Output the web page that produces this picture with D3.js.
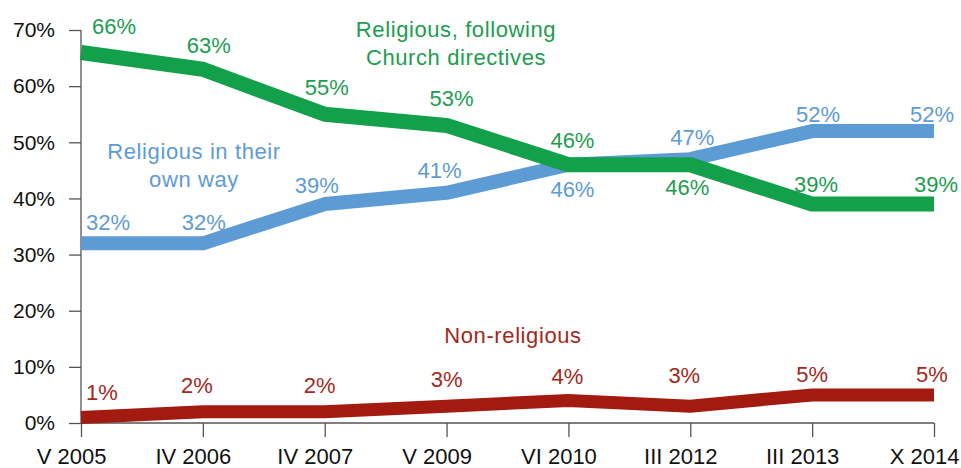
<!DOCTYPE html>
<html>
<head>
<meta charset="utf-8">
<script src="https://cdn.jsdelivr.net/npm/d3@7/dist/d3.min.js"></script>
<style>
  html, body { margin: 0; padding: 0; background: #fff; }
  svg { display: block; font-family: "Liberation Sans", Arial, sans-serif; }
</style>
</head>
<body>
<svg id="chart" width="961" height="468"></svg>
<script>
// Survey waves
const periods = ["V 2005", "IV 2006", "IV 2007", "V 2009", "VI 2010", "III 2012", "III 2013", "X 2014"];

// Share of respondents (%)
const followingChurch = [66, 63, 55, 53, 46, 46, 39, 39];
const ownWay = [32, 32, 39, 41, 46, 47, 52, 52];
const nonReligious = [1, 2, 2, 3, 4, 3, 5, 5];

const yTicks = [0, 10, 20, 30, 40, 50, 60, 70];

// Value-label nudges [dx, dy] relative to each point
const followingOffsets = [[33, -18], [6, -16], [2, -19], [5, -19], [4, -17], [-3, 30], [4, -12], [2, -12]];
const ownWayOffsets = [[27, -13], [1, -13], [-8, -11], [-7, -15], [4, 32], [2, -14], [6, -9], [-2, -9]];
const nonReligiousOffsets = [[21, -17], [-6, -19], [-5, -19], [0, -19], [-1, -17], [-6, -23], [0, -13], [-2, -13]];

const svg = d3.select("#chart");

const x = d3.scalePoint().domain(periods).range([81, 934]);
const y = d3.scaleLinear().domain([0, 70]).range([423, 30]);

// Axes
const yAxis = d3.axisLeft(y).tickValues(yTicks).tickFormat(d => d + "%").tickSize(12).tickPadding(14);
const gy = svg.append("g").attr("transform", "translate(81,0)").call(yAxis);
gy.select(".domain").attr("stroke", "#555").attr("stroke-width", 1.3).attr("d", "M0," + y(70) + "V" + y(0));
gy.selectAll(".tick line").attr("stroke", "#555").attr("stroke-width", 1.3);
gy.selectAll(".tick text").attr("fill", "#111").style("font-size", "21px").style("font-family", "Liberation Sans, Arial, sans-serif");

const xAxis = d3.axisBottom(x).tickSize(14).tickPadding(11);
const gx = svg.append("g").attr("transform", "translate(0,423)").call(xAxis);
gx.select(".domain").attr("stroke", "#555").attr("stroke-width", 1.3).attr("d", "M" + x.range()[0] + ",0H" + x.range()[1]);
gx.selectAll(".tick line").attr("stroke", "#555").attr("stroke-width", 1.3);
gx.selectAll(".tick text").attr("fill", "#111").attr("dx", -10).attr("dy", "0.71em")
  .style("font-size", "22px").style("font-family", "Liberation Sans, Arial, sans-serif");

// Series: drawn back to front
const series = [
  { values: nonReligious, offsets: nonReligiousOffsets, stroke: "#a31b10", text: "#a3281d", width: 13 },
  { values: ownWay, offsets: ownWayOffsets, stroke: "#5d9bd4", text: "#5e9bd5", width: 14 },
  { values: followingChurch, offsets: followingOffsets, stroke: "#13a04b", text: "#1c9d4f", width: 15 }
];

const line = d3.line().x((d, i) => x(periods[i])).y(d => y(d));

series.forEach(s => {
  svg.append("path")
    .datum(s.values)
    .attr("d", line)
    .attr("fill", "none")
    .attr("stroke", s.stroke)
    .attr("stroke-width", s.width)
    .attr("stroke-linejoin", "round")
    .attr("stroke-linecap", "butt");
});

series.forEach(s => {
  svg.append("g").selectAll("text")
    .data(s.values)
    .join("text")
    .attr("x", (d, i) => x(periods[i]) + s.offsets[i][0])
    .attr("y", (d, i) => y(d) + s.offsets[i][1])
    .attr("text-anchor", "middle")
    .attr("fill", s.text)
    .style("font-size", "22px")
    .text(d => d + "%");
});

// Series names
const names = [
  { lines: ["Religious, following", "Church directives"], cx: 456, y0: 37, color: "#1c9d4f" },
  { lines: ["Religious in their", "own way"], cx: 194, y0: 159, color: "#5e9bd5" },
  { lines: ["Non-religious"], cx: 513, y0: 343, color: "#a3281d" }
];

names.forEach(n => {
  const t = svg.append("text")
    .attr("text-anchor", "middle")
    .attr("fill", n.color)
    .style("font-size", "22px")
    .style("letter-spacing", "0.6px");
  n.lines.forEach((ln, i) => {
    t.append("tspan").attr("x", n.cx).attr("y", n.y0 + i * 28).text(ln);
  });
});
</script>
</body>
</html>
